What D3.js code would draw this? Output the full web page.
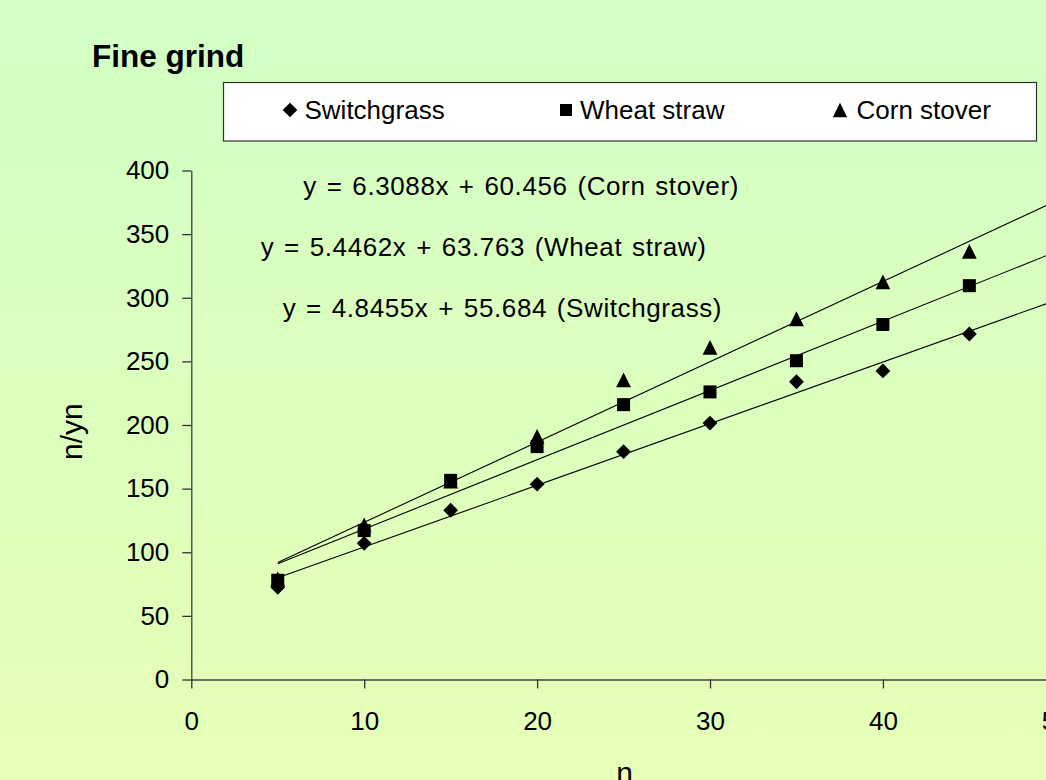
<!DOCTYPE html>
<html>
<head>
<meta charset="utf-8">
<script src="https://cdn.jsdelivr.net/npm/d3@7/dist/d3.min.js"></script>
<style>
  html, body { margin: 0; padding: 0; overflow: hidden; background: #e0ffc0; }
  svg { display: block; font-family: "Liberation Sans", Arial, sans-serif; }
</style>
</head>
<body>
<svg id="chart" width="1046" height="780"></svg>
<script>
// ---- data ----
const nValues = [5, 10, 15, 20, 25, 30, 35, 40, 45];
const seriesNames = ["Switchgrass", "Wheat straw", "Corn stover"];
const switchgrass = [72.5, 107, 133, 153.5, 179, 201.5, 234, 242.5, 271.5];
const wheatStraw = [78, 117, 156.5, 183, 216, 226, 250.5, 279, 309.5];
const cornStover = [79, 121.5, 156, 191, 235.5, 261, 283.5, 312.5, 336.5];
const slopes = [4.8455, 5.4462, 6.3088];
const intercepts = [55.684, 63.763, 60.456];
const equationLabels = [
  "y = 4.8455x + 55.684 (Switchgrass)",
  "y = 5.4462x + 63.763 (Wheat straw)",
  "y = 6.3088x + 60.456 (Corn stover)"
];
const xTicks = [0, 10, 20, 30, 40, 50];
const yTicks = [0, 50, 100, 150, 200, 250, 300, 350, 400];
const trendRange = [5, 50];
const titleText = "Fine grind";
const xLabel = "n";
const yLabel = "n/yn";

const seriesValues = [switchgrass, wheatStraw, cornStover];

// Excel-like marker shapes (size = half extent in px)
const diamond = {
  draw(ctx, r) { ctx.moveTo(0, -r); ctx.lineTo(r, 0); ctx.lineTo(0, r); ctx.lineTo(-r, 0); ctx.closePath(); }
};
const square = {
  draw(ctx, r) { ctx.rect(-r, -r, 2 * r, 2 * r); }
};
const triangle = {
  draw(ctx, r) { ctx.moveTo(0, -r); ctx.lineTo(r, r); ctx.lineTo(-r, r); ctx.closePath(); }
};
const symbols = [diamond, square, triangle];
const markerHalf = [7.4, 6.5, 7.4];
const legendHalf = [7.3, 6.0, 7.2];

const svg = d3.select("#chart");
const W = 1046, H = 780;

// background gradient
const defs = svg.append("defs");
const grad = defs.append("linearGradient").attr("id", "bg")
  .attr("x1", 0).attr("y1", 0).attr("x2", 0).attr("y2", 1);
grad.append("stop").attr("offset", "0%").attr("stop-color", "#d2ffc5");
grad.append("stop").attr("offset", "100%").attr("stop-color", "#e6ffb7");
svg.append("rect").attr("width", W).attr("height", H).attr("fill", "url(#bg)");

const x = d3.scaleLinear().domain([0, 50]).range([191.3, 1055.8]);
const y = d3.scaleLinear().domain([0, 400]).range([679.5, 170.5]);

// axes
const xAxis = svg.append("g").attr("transform", `translate(0,${y(0)})`)
  .call(d3.axisBottom(x).tickValues(xTicks).tickSize(9).tickSizeOuter(0).tickPadding(23));
const yAxis = svg.append("g").attr("transform", `translate(${x(0)},0)`)
  .call(d3.axisLeft(y).tickValues(yTicks).tickSize(9).tickSizeOuter(0).tickPadding(13));
[xAxis, yAxis].forEach(g => {
  g.select(".domain").attr("stroke", "#404040").attr("stroke-width", 1.3);
  g.selectAll(".tick line").attr("stroke", "#303030").attr("stroke-width", 1.3);
  g.selectAll(".tick text").attr("fill", "#000").attr("font-size", 26)
    .attr("font-family", "'Liberation Sans', Arial, sans-serif");
});

// trend lines
const line = d3.line().x(d => x(d[0])).y(d => y(d[1]));
slopes.forEach((m, i) => {
  const pts = trendRange.map(n => [n, m * n + intercepts[i]]);
  svg.append("path").attr("d", line(pts)).attr("fill", "none")
    .attr("stroke", "#000").attr("stroke-width", 1.1);
});

// markers
seriesValues.forEach((vals, i) => {
  svg.append("g").selectAll("path").data(vals).join("path")
    .attr("transform", (d, j) => `translate(${x(nValues[j])},${y(d)})`)
    .attr("d", d3.symbol().type(symbols[i]).size(markerHalf[i]))
    .attr("fill", "#000");
});

// equations
const eqPos = [[282.7, 317], [260.7, 256], [303.3, 195]];
equationLabels.forEach((t, i) => {
  svg.append("text").attr("x", eqPos[i][0]).attr("y", eqPos[i][1])
    .attr("font-size", 26).attr("letter-spacing", 0.6).attr("word-spacing", 2)
    .text(t);
});

// title
svg.append("text").attr("x", 92).attr("y", 67).attr("font-size", 31.5)
  .attr("font-weight", "bold").text(titleText);

// legend
svg.append("rect").attr("x", 223.5).attr("y", 82.5).attr("width", 813).attr("height", 58.5)
  .attr("fill", "#fff").attr("stroke", "#303030").attr("stroke-width", 1.2);
const legendItems = [
  { mx: 290, tx: 304.5 },
  { mx: 566, tx: 580 },
  { mx: 840, tx: 856.5 }
];
seriesNames.forEach((name, i) => {
  svg.append("path").attr("transform", `translate(${legendItems[i].mx},110)`)
    .attr("d", d3.symbol().type(symbols[i]).size(legendHalf[i])).attr("fill", "#000");
  svg.append("text").attr("x", legendItems[i].tx).attr("y", 118.5)
    .attr("font-size", 26).text(name);
});

// axis titles
svg.append("text").attr("transform", "translate(82,431.7) rotate(-90)")
  .attr("text-anchor", "middle").attr("font-size", 30).text(yLabel);
svg.append("text").attr("x", 624.5).attr("y", 783)
  .attr("text-anchor", "middle").attr("font-size", 30).text(xLabel);
</script>
</body>
</html>
